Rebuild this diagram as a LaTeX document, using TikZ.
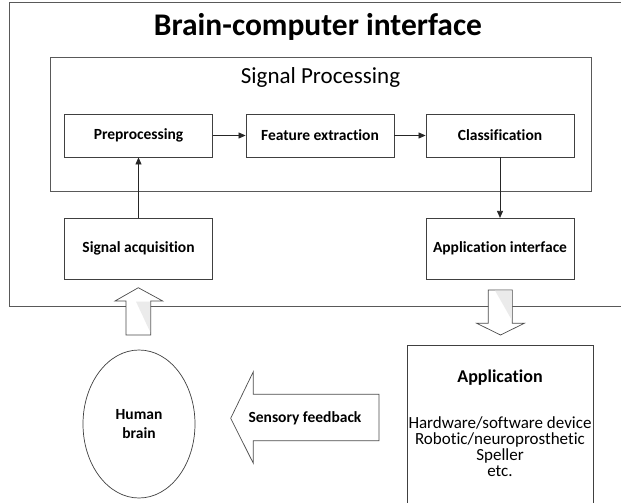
\documentclass[tikz,border=0pt]{standalone}
\usepackage{fontspec}
\setmainfont{Carlito}[Ligatures=NoCommon]
\usetikzlibrary{arrows.meta,shapes.geometric}

\tikzset{
  frame/.style={draw=black!65, line width=0.9pt},
  stepbox/.style={draw=black!75, line width=0.9pt, fill=white, font=\fontsize{15.5}{18}\selectfont\bfseries,
                  minimum width=148pt, inner sep=0pt},
  flow/.style={draw=black!85, line width=0.8pt, -{Triangle[length=7pt,width=6pt]}},
  blockarrow/.style={draw=black!70, line width=0.7pt, fill=white},
  shade/.style={fill=black!8, draw=none},
}

\begin{document}
\begin{tikzpicture}[x=1pt, y=-1pt]
  \useasboundingbox (0,0) rectangle (621,503);
  \fill[white] (0,0) rectangle (621,503);

  % outer frame of the interface (open on the right)
  \draw[frame] (622,2.7) -- (9.3,2.7) -- (9.3,306.7) -- (622,306.7);
  \node[font=\fontsize{31.5}{35}\selectfont\bfseries] (title) at (318,27) {Brain-computer interface};

  % signal processing block
  \node[frame, anchor=north west, minimum width=540.5pt, minimum height=134pt, inner sep=0pt] (sp) at (50,56.7) {};
  \node[font=\fontsize{23}{26}\selectfont] (sptitle) at (320.5,77) {Signal Processing};

  \node[stepbox, minimum height=43pt] (pre) at (138.5,135.5) {Preprocessing};
  \node[stepbox, minimum height=43pt] (fe)  at (320,135.5) {Feature extraction};
  \node[stepbox, minimum height=43pt] (cls) at (500,135.5) {Classification};

  \node[stepbox, minimum height=60.7pt] (acq) at (138.5,248.7) {Signal acquisition};
  \node[stepbox, minimum height=60.7pt] (api) at (500,248.7) {Application interface};

  \draw[flow] (pre) -- (fe);
  \draw[flow] (fe) -- (cls);
  \draw[flow] (acq) -- (pre);
  \draw[flow] (cls) -- (api);

  % block arrow up into signal acquisition
  \draw[blockarrow] (138.3,287.7) -- (162.7,301) -- (150.7,301) -- (150.7,335)
                    -- (126,335) -- (126,301) -- (115,301) -- cycle;
  \fill[shade] (136,301.5) -- (150.2,301.5) -- (150.2,332) -- cycle;

  % block arrow down out of application interface
  \draw[blockarrow] (488.3,290) -- (512.3,290) -- (512.3,323.3) -- (524.3,323.3)
                    -- (500.5,335) -- (476.7,323.3) -- (488.3,323.3) -- cycle;
  \fill[shade] (495,290.5) -- (511.8,290.5) -- (511.8,320) -- cycle;

  % human brain
  \node[ellipse, draw=black!75, line width=0.7pt, minimum width=112pt, minimum height=148pt,
        align=center, font=\fontsize{15.5}{19}\selectfont\bfseries] (brain) at (139,424) {Human\\brain};

  % sensory feedback arrow
  \draw[blockarrow] (230.7,418.3) -- (253.3,371.7) -- (253.3,394.3) -- (379,394.3)
                    -- (379,440.7) -- (253.3,440.7) -- (253.3,463.3) -- cycle;
  \node[font=\fontsize{15.5}{18}\selectfont\bfseries] (fb) at (305,418) {Sensory feedback};

  % application box (runs off the bottom)
  \draw[frame, draw=black!75] (407.3,505) -- (407.3,345) -- (593,345) -- (593,505);
  \node[font=\fontsize{18}{20}\selectfont\bfseries] (app) at (500,378) {Application};
  \node[align=center, anchor=north, inner sep=0pt, font=\fontsize{17}{16.3}\selectfont] (uses) at (500,416)
    {Hardware/software device\\Robotic/neuroprosthetic\\Speller\\etc.};
\end{tikzpicture}
\end{document}
